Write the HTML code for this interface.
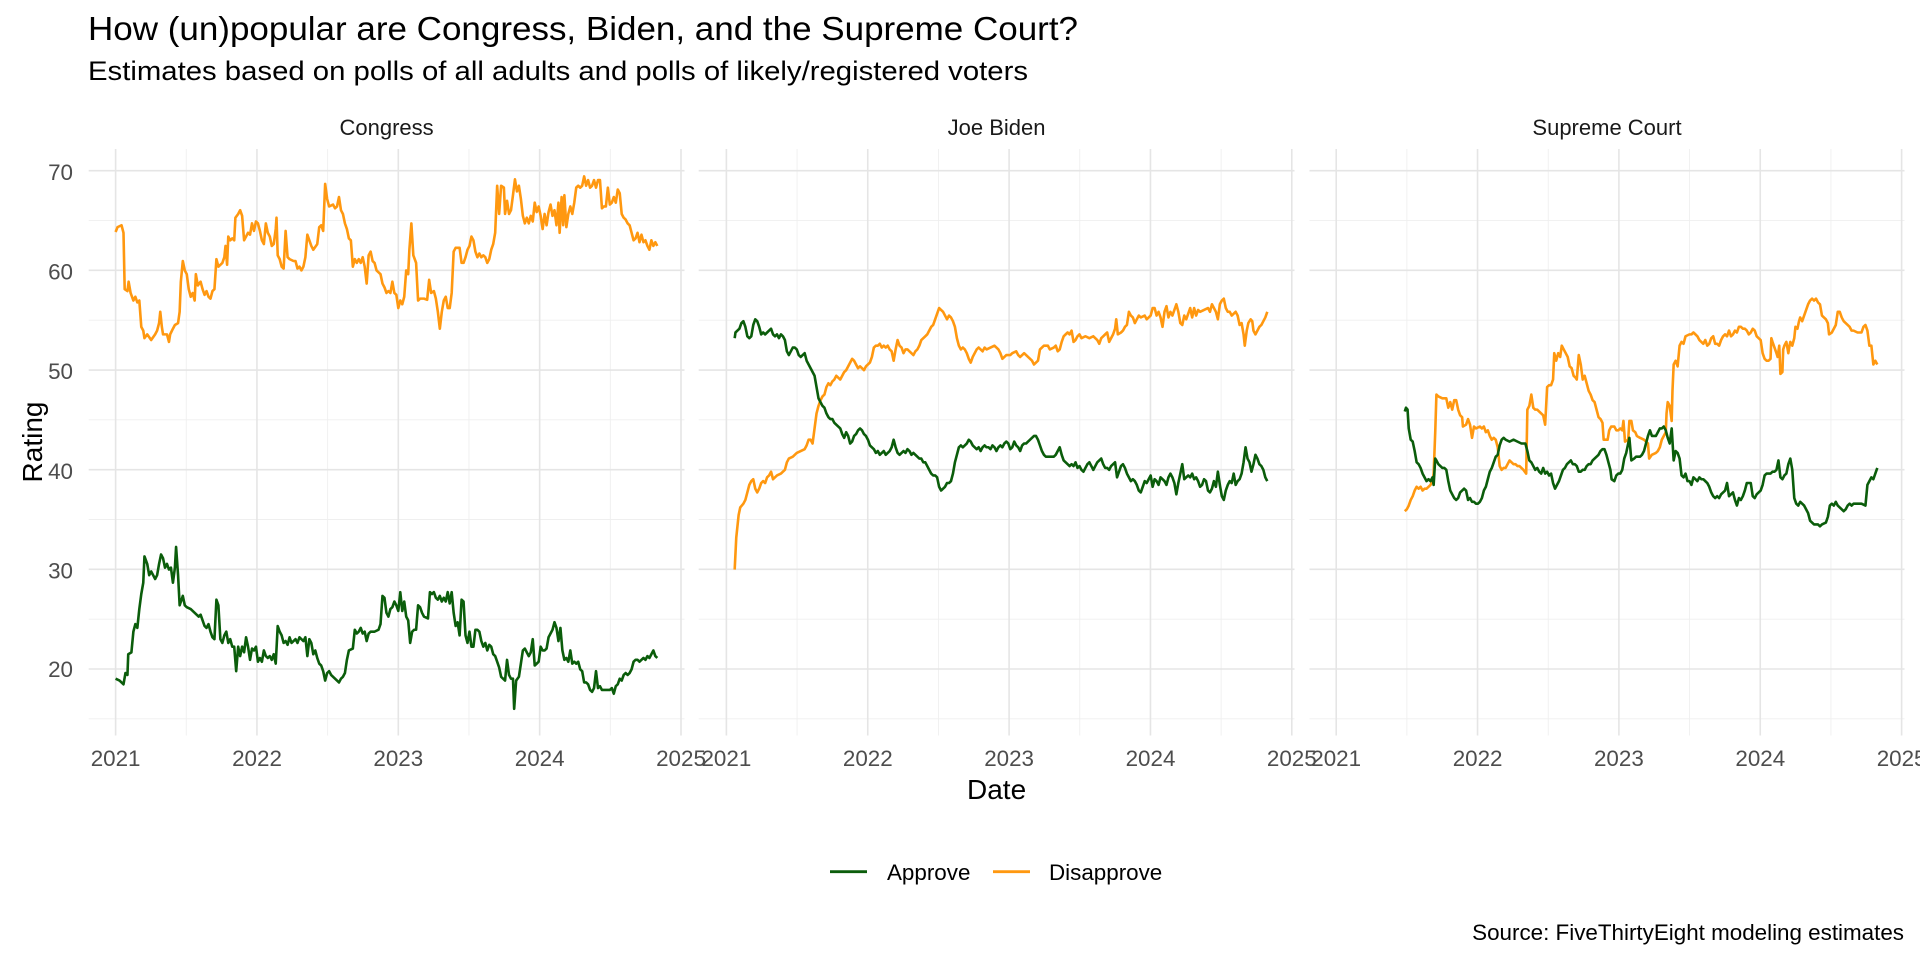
<!DOCTYPE html>
<html><head><meta charset="utf-8"><style>
html,body{margin:0;padding:0;background:#fff;}
svg{display:block;font-family:"Liberation Sans",Arial,sans-serif;}
.maj{stroke:#e5e5e5;stroke-width:1.6;}
.min{stroke:#efefef;stroke-width:0.9;}
.tk{fill:#4d4d4d;font-size:22.4px;}
.ap{fill:none;stroke:#0b5d0b;stroke-width:2.6;stroke-linejoin:round;vector-effect:non-scaling-stroke;}
.dp{fill:none;stroke:#ff9810;stroke-width:2.6;stroke-linejoin:round;vector-effect:non-scaling-stroke;}
</style></head><body>
<svg width="1920" height="960" viewBox="0 0 1920 960" xmlns="http://www.w3.org/2000/svg">
<rect width="1920" height="960" fill="#fff"/>
<text x="88" y="40" font-size="33" fill="#000" textLength="990" lengthAdjust="spacingAndGlyphs">How (un)popular are Congress, Biden, and the Supreme Court?</text>
<text x="88" y="80" font-size="27" fill="#000" textLength="940" lengthAdjust="spacingAndGlyphs">Estimates based on polls of all adults and polls of likely/registered voters</text>

<g id="grid">
</g>
<script>
(function(){
var ns="http://www.w3.org/2000/svg",g=document.getElementById("grid");
var panels=[[88.7,684.5,115.6],[698.7,1294.5,726.4],[1309.5,1904.5,1336.2]];
var yr=141.35,top=149,bot=735.5;
function y(v){return 669-(v-20)*9.966;}
function ln(x1,y1,x2,y2,c){var l=document.createElementNS(ns,"line");l.setAttribute("x1",x1);l.setAttribute("y1",y1);l.setAttribute("x2",x2);l.setAttribute("y2",y2);l.setAttribute("class",c);g.appendChild(l);}
panels.forEach(function(p){
 for(var v=15;v<=65;v+=10) ln(p[0],y(v),p[1],y(v),"min");
 for(var k=0;k<4;k++) ln(p[2]+yr*(k+0.5),top,p[2]+yr*(k+0.5),bot,"min");
 for(var v=20;v<=70;v+=10) ln(p[0],y(v),p[1],y(v),"maj");
 for(var k=0;k<=4;k++) ln(p[2]+yr*k,top,p[2]+yr*k,bot,"maj");
});
})();
</script>

<text x="386.6" y="135" font-size="22" fill="#1a1a1a" text-anchor="middle">Congress</text>
<text x="996.6" y="135" font-size="22" fill="#1a1a1a" text-anchor="middle">Joe Biden</text>
<text x="1607" y="135" font-size="22" fill="#1a1a1a" text-anchor="middle">Supreme Court</text>

<g class="tk" text-anchor="end">
<text x="73" y="180">70</text>
<text x="73" y="279.5">60</text>
<text x="73" y="379">50</text>
<text x="73" y="479">40</text>
<text x="73" y="578.5">30</text>
<text x="73" y="677">20</text>
</g>
<g class="tk" text-anchor="middle">
<text x="115.6" y="766">2021</text><text x="257" y="766">2022</text><text x="398.3" y="766">2023</text><text x="539.7" y="766">2024</text><text x="681" y="766">2025</text>
<text x="726.4" y="766">2021</text><text x="867.8" y="766">2022</text><text x="1009.1" y="766">2023</text><text x="1150.5" y="766">2024</text><text x="1291.8" y="766">2025</text>
<text x="1336.2" y="766">2021</text><text x="1477.6" y="766">2022</text><text x="1618.9" y="766">2023</text><text x="1760.3" y="766">2024</text><text x="1901.6" y="766">2025</text>
</g>
<text x="996.6" y="799" font-size="28" fill="#000" text-anchor="middle">Date</text>
<text transform="translate(42,442) rotate(-90)" font-size="28" fill="#000" text-anchor="middle">Rating</text>

<g transform="translate(80,150) scale(0.39541,0.37628)">
<polyline class="dp" points="90,218 95,205 105,200 110,220 113,370 120,375 123,350 128,380 135,400 140,390 145,405 150,400 155,470 160,480 163,500 170,490 180,505 190,490 195,480 200,460 203,430 207,470 210,490 220,490 225,510 228,490 235,475 240,465 248,460 252,430 255,350 260,295 265,320 270,330 275,370 280,390 285,380 290,400 293,330 298,360 305,350 310,370 315,385 320,375 325,390 330,395 335,375 340,370 345,290 350,310 360,300 365,285 368,255 372,305 375,230 380,240 385,235 390,240 393,180 400,170 405,160 410,175 415,240 420,230 425,220 430,225 435,195 440,215 445,190 450,195 455,215 460,240 465,250 470,195 475,220 480,230 485,255 490,250 495,210 497,180 500,280 505,290 510,310 515,315 520,215 525,285 530,290 540,295 545,295 550,315 555,310 560,320 565,310 570,285 575,225 580,240 585,255 590,265 600,250 605,205 610,200 615,215 620,90 625,130 630,150 640,145 645,155 650,150 655,125 660,160 665,170 670,195 675,210 680,235 685,240 690,310 695,290 700,300 705,290 710,300 715,285 720,310 725,355 730,280 735,270 740,295 745,300 750,320 755,325 760,330 765,355 770,365 775,380 780,375 785,380 790,350 795,380 800,385 805,420 810,400 815,410 820,390 825,320 830,330 833,265 838,195 843,280 850,300 855,400 860,395 870,395 878,398 883,345 888,380 895,375 900,395 905,430 910,475 915,430 920,400 925,390 930,420 935,420 940,380 945,270 950,260 960,260 965,300 970,300 975,285 980,265 985,255 990,230 995,240 1000,270 1005,285 1010,275 1015,285 1020,280 1025,285 1030,300 1035,290 1040,265 1045,250 1050,220 1055,95 1060,170 1065,95 1072,100 1075,170 1080,135 1085,170 1090,160 1095,120 1100,78 1105,110 1110,95 1115,130 1120,175 1125,195 1130,180 1135,195 1140,175 1145,190 1150,140 1155,165 1160,150 1165,175 1170,210 1175,170 1180,200 1185,165 1190,145 1195,175 1200,160 1205,200 1210,140 1213,220 1218,125 1222,200 1225,120 1230,205 1235,170 1240,150 1245,170 1250,140 1255,100 1260,95 1265,100 1270,95 1275,70 1280,95 1285,80 1290,100 1295,95 1300,80 1305,100 1310,80 1315,80 1320,155 1325,150 1330,150 1335,100 1340,145 1345,140 1350,125 1355,140 1360,105 1365,115 1370,170 1375,180 1380,185 1385,195 1390,200 1395,220 1400,240 1405,235 1410,220 1415,245 1420,225 1425,245 1430,240 1435,255 1440,265 1445,240 1450,255 1455,245 1460,255"/>
<polyline class="ap" points="90,1405 100,1410 110,1420 115,1390 120,1395 122,1340 130,1335 135,1280 140,1260 145,1270 150,1220 155,1180 160,1150 163,1080 170,1100 175,1130 180,1120 185,1130 190,1140 195,1130 200,1100 205,1075 210,1085 215,1110 220,1100 225,1115 230,1110 235,1150 240,1110 243,1055 248,1130 252,1210 260,1185 265,1210 270,1215 280,1220 290,1230 300,1240 305,1235 310,1250 315,1265 320,1270 325,1260 330,1280 335,1295 340,1300 345,1195 350,1210 355,1300 360,1310 365,1290 370,1280 375,1310 380,1300 385,1320 390,1320 395,1385 400,1320 405,1345 410,1320 415,1335 420,1295 425,1320 430,1355 435,1325 440,1330 445,1320 450,1360 455,1350 460,1360 465,1330 470,1345 475,1350 480,1345 485,1355 490,1340 495,1365 500,1265 505,1280 510,1290 515,1310 520,1305 525,1315 530,1295 535,1310 540,1305 545,1300 550,1310 555,1295 560,1300 565,1305 570,1295 575,1345 580,1300 585,1310 590,1340 595,1330 600,1350 605,1365 610,1370 615,1385 620,1410 625,1390 630,1385 635,1395 640,1400 645,1405 650,1410 655,1415 660,1405 665,1400 670,1390 675,1355 680,1330 690,1325 695,1275 700,1285 705,1280 710,1270 715,1285 720,1280 725,1305 730,1285 735,1280 745,1280 755,1275 760,1260 765,1185 770,1190 775,1230 780,1240 785,1220 790,1215 795,1200 800,1210 805,1225 810,1175 815,1225 820,1200 825,1240 830,1250 835,1310 840,1280 845,1275 850,1275 855,1210 860,1215 865,1230 870,1240 880,1245 885,1175 890,1180 895,1175 900,1190 905,1195 910,1185 915,1200 920,1190 925,1200 930,1175 935,1205 940,1175 945,1230 950,1265 955,1255 960,1290 965,1195 970,1200 975,1290 980,1310 985,1280 990,1320 995,1320 1000,1275 1005,1275 1010,1280 1015,1305 1020,1320 1025,1310 1030,1330 1035,1315 1040,1320 1045,1340 1050,1345 1055,1360 1060,1375 1065,1400 1070,1405 1075,1410 1080,1355 1085,1395 1090,1405 1095,1405 1098,1485 1103,1410 1110,1400 1115,1365 1120,1330 1125,1325 1130,1335 1135,1345 1140,1335 1145,1300 1150,1370 1155,1365 1160,1360 1165,1320 1170,1330 1175,1330 1180,1325 1185,1295 1190,1285 1195,1275 1200,1255 1205,1270 1210,1305 1215,1270 1220,1330 1225,1355 1230,1350 1235,1360 1240,1330 1245,1365 1250,1360 1255,1365 1260,1360 1265,1380 1270,1385 1275,1415 1280,1415 1285,1420 1290,1435 1295,1440 1300,1430 1305,1385 1310,1430 1315,1425 1320,1435 1330,1435 1340,1435 1345,1430 1350,1445 1355,1425 1360,1420 1365,1405 1370,1410 1375,1395 1380,1390 1385,1395 1390,1390 1395,1380 1400,1360 1405,1355 1410,1355 1415,1360 1420,1355 1425,1350 1430,1355 1435,1345 1440,1350 1445,1340 1450,1330 1455,1345 1460,1350"/>
</g>

<g transform="translate(690,150) scale(0.39541,0.37628)">
<polyline class="dp" points="113,1115 117,1030 120,1000 123,970 127,950 135,940 140,930 145,910 150,890 155,880 160,875 165,900 170,910 175,900 180,885 185,880 190,885 195,870 200,865 205,855 210,875 215,870 220,865 230,860 240,850 245,830 250,820 260,815 270,805 280,800 290,795 295,785 300,770 305,770 310,780 315,740 320,700 325,680 330,665 335,655 340,650 345,630 350,620 355,625 360,615 365,610 370,600 375,605 380,610 385,600 390,590 395,585 400,575 405,565 410,555 415,560 420,570 425,580 430,575 435,580 440,585 445,575 450,570 455,565 460,550 465,525 470,520 475,520 480,515 485,525 490,520 495,525 500,520 505,530 510,535 515,560 520,530 525,505 530,520 535,525 540,540 545,530 550,530 555,535 560,540 565,545 570,535 575,530 580,520 585,505 590,500 595,495 600,490 605,480 610,470 615,465 620,450 625,435 630,420 635,425 640,430 645,440 650,450 655,440 660,445 665,455 670,470 675,500 680,520 685,530 690,525 695,530 700,540 705,555 710,565 715,550 720,540 725,530 730,525 740,535 745,525 750,530 760,525 770,520 780,530 785,540 790,555 795,550 800,545 810,545 815,540 825,535 830,545 835,550 845,540 850,545 855,550 860,555 865,560 870,570 875,565 880,560 885,530 890,525 895,520 905,520 910,530 920,525 925,520 930,535 935,530 940,510 945,495 950,490 955,485 960,490 965,480 970,510 975,505 980,495 985,490 990,500 1000,495 1010,500 1020,495 1030,505 1035,515 1040,500 1045,495 1050,490 1055,485 1060,510 1065,500 1070,490 1075,475 1078,450 1082,490 1090,485 1095,480 1100,470 1105,465 1110,430 1115,440 1120,445 1125,460 1130,450 1135,440 1140,445 1150,440 1155,450 1160,445 1165,440 1170,420 1175,420 1180,440 1185,430 1190,445 1195,470 1200,430 1205,415 1210,445 1215,430 1220,440 1225,425 1230,410 1235,430 1240,460 1245,465 1250,440 1255,450 1260,435 1265,420 1270,445 1275,420 1280,440 1285,425 1290,430 1300,425 1310,420 1315,430 1320,410 1325,420 1330,430 1335,450 1340,410 1345,400 1350,395 1355,420 1360,430 1365,430 1370,440 1375,435 1380,430 1385,440 1390,465 1395,460 1400,490 1403,520 1408,480 1412,460 1418,450 1422,455 1425,480 1430,490 1435,480 1440,470 1445,465 1450,455 1455,445 1460,430"/>
<polyline class="ap" points="113,500 115,485 120,480 125,475 130,460 135,455 140,470 145,495 150,500 155,495 160,465 165,450 170,455 175,470 180,490 185,485 190,490 195,485 200,480 205,475 210,490 215,495 220,490 225,500 230,490 235,495 240,505 245,535 250,545 255,535 260,525 265,525 270,530 275,545 280,550 285,545 290,540 295,560 300,570 305,580 310,590 315,600 320,630 325,660 330,670 335,680 340,685 345,700 350,710 355,715 360,715 365,725 370,730 375,735 380,740 385,755 390,765 395,750 400,760 405,780 410,775 415,760 420,755 425,745 430,740 435,745 440,755 445,760 450,770 455,785 460,790 465,795 470,805 475,800 480,810 485,805 490,800 495,810 500,805 505,800 510,790 515,770 520,790 525,805 530,810 535,805 540,800 545,805 550,795 555,800 560,810 565,805 570,810 575,815 580,820 585,820 590,830 595,830 600,840 605,850 610,860 615,865 620,865 625,870 630,895 635,905 640,900 645,895 650,885 655,885 660,880 665,860 670,830 675,810 680,790 685,785 690,790 695,785 700,780 705,770 710,775 715,785 720,790 725,795 730,790 735,800 740,790 745,785 750,790 755,790 760,795 765,785 770,790 775,800 780,790 785,785 790,790 795,780 800,775 805,780 810,795 815,790 820,775 825,785 830,790 835,800 840,785 845,780 850,780 855,775 860,770 865,765 870,760 875,760 880,770 885,785 890,800 895,810 900,815 910,815 920,815 925,810 930,800 935,790 940,810 945,825 950,830 955,835 960,840 965,835 970,840 975,830 980,845 985,840 990,850 995,855 1000,845 1005,835 1010,830 1015,840 1020,850 1025,840 1030,830 1035,825 1040,820 1045,835 1050,845 1055,845 1060,850 1065,840 1070,835 1075,830 1080,870 1085,855 1090,840 1095,835 1100,845 1105,860 1110,870 1115,880 1120,875 1125,880 1130,890 1135,905 1140,910 1145,895 1150,880 1155,885 1160,875 1165,865 1170,895 1175,875 1180,880 1185,890 1190,870 1195,875 1200,880 1205,890 1210,870 1215,860 1220,870 1225,885 1230,915 1235,885 1240,860 1245,835 1250,875 1255,870 1260,865 1265,870 1270,860 1275,875 1280,870 1285,880 1290,895 1295,890 1300,875 1305,880 1310,905 1315,910 1320,900 1325,880 1330,895 1335,855 1340,890 1345,920 1350,930 1355,905 1360,890 1365,880 1370,885 1375,860 1380,890 1385,880 1390,875 1395,860 1400,830 1405,790 1410,820 1415,830 1420,855 1425,835 1430,810 1435,820 1440,835 1445,840 1450,850 1455,870 1460,880"/>
</g>

<g transform="translate(1300,150) scale(0.39541,0.37628)">
<polyline class="dp" points="265,960 270,955 275,945 280,930 285,920 290,905 295,895 300,900 305,895 310,905 315,900 320,900 325,895 330,890 335,880 338,860 342,750 345,650 350,655 360,660 370,660 375,685 380,670 385,690 390,665 395,665 400,690 405,705 410,710 412,735 420,730 425,715 430,730 435,765 440,735 445,740 455,735 460,740 465,735 470,750 475,745 480,760 485,770 490,765 495,770 500,790 505,840 510,850 515,845 520,845 525,835 530,825 535,830 540,835 545,835 550,840 555,840 560,845 565,850 572,860 575,690 580,680 585,650 590,685 595,690 600,690 605,695 610,700 615,705 620,730 625,630 630,625 635,625 640,610 643,540 648,560 653,540 658,550 662,520 667,530 672,540 677,550 682,575 687,580 692,600 697,605 700,610 705,545 710,570 715,610 720,600 725,620 730,640 735,650 740,665 745,670 750,690 755,710 760,715 765,725 768,770 778,770 782,745 787,735 795,735 800,745 805,745 810,740 815,745 818,720 822,775 830,770 833,720 838,720 842,745 848,750 852,760 860,765 870,770 875,775 880,780 883,820 890,810 900,805 905,800 910,790 915,770 920,760 925,750 927,700 930,670 935,680 940,720 942,640 945,570 950,560 955,575 960,520 965,510 970,515 975,495 985,490 990,490 995,485 1000,490 1005,495 1010,505 1015,510 1020,515 1025,505 1030,520 1035,515 1040,500 1045,495 1050,515 1055,515 1060,520 1065,505 1070,495 1075,490 1080,495 1085,480 1090,495 1095,490 1100,480 1105,485 1110,470 1115,470 1120,475 1125,475 1130,480 1135,490 1140,485 1145,475 1150,480 1155,495 1160,500 1165,505 1170,540 1175,555 1180,560 1185,560 1190,555 1192,500 1195,510 1200,525 1205,540 1208,550 1212,520 1215,595 1220,590 1222,530 1225,520 1230,510 1235,540 1238,520 1240,510 1245,520 1250,500 1253,470 1258,475 1262,455 1265,445 1270,455 1275,440 1280,425 1285,410 1290,400 1295,395 1300,400 1305,395 1310,405 1315,410 1320,440 1325,445 1330,450 1335,460 1338,490 1345,485 1350,475 1355,465 1360,430 1365,430 1370,445 1375,455 1380,460 1385,465 1390,470 1395,480 1400,480 1410,485 1420,485 1425,470 1430,465 1435,480 1440,520 1445,520 1450,570 1455,560 1460,570"/>
<polyline class="ap" points="265,695 268,685 272,690 275,740 280,770 285,775 290,800 295,830 300,835 305,845 310,860 315,870 320,880 325,875 330,880 335,870 338,890 342,820 345,825 350,835 355,840 360,845 365,845 370,850 375,880 380,905 385,915 390,925 395,930 400,925 405,910 410,905 415,900 420,905 425,930 430,925 435,935 440,935 445,940 450,940 455,935 460,925 465,905 470,895 475,875 480,855 485,845 490,830 495,815 500,810 505,785 510,770 515,765 520,770 530,775 540,770 550,775 560,780 570,780 575,800 580,825 585,830 590,840 595,850 600,845 605,855 610,860 615,845 620,860 625,855 630,865 635,860 640,885 645,900 650,890 655,880 660,865 665,850 670,845 675,835 680,830 685,825 690,835 695,835 700,840 705,855 710,855 715,850 720,850 725,840 730,835 735,835 740,825 745,820 750,815 755,810 760,800 765,795 770,795 775,810 780,830 785,850 788,875 795,880 800,865 805,860 810,860 815,850 820,820 825,805 830,780 833,765 838,825 845,820 850,815 860,815 865,810 870,800 875,780 880,760 885,745 890,760 895,760 900,760 905,750 910,740 915,740 920,735 925,745 930,765 935,780 940,740 945,825 950,800 955,805 960,820 965,865 970,870 975,860 980,880 985,880 990,890 995,870 1000,875 1005,880 1010,870 1015,875 1020,875 1025,880 1030,885 1035,895 1040,910 1045,920 1050,925 1055,920 1060,925 1065,915 1070,910 1075,905 1080,885 1085,920 1090,915 1095,910 1100,930 1105,945 1110,925 1115,930 1120,920 1125,905 1130,885 1135,885 1140,885 1145,920 1150,925 1155,915 1160,910 1165,905 1170,890 1175,865 1180,860 1185,860 1190,860 1195,855 1200,855 1205,850 1210,825 1215,870 1220,875 1225,865 1230,860 1235,835 1240,820 1245,850 1250,925 1255,940 1260,945 1265,935 1270,940 1275,945 1280,955 1285,965 1290,985 1295,990 1300,995 1310,995 1315,1000 1320,995 1330,990 1335,975 1340,945 1345,940 1350,945 1355,935 1360,945 1365,950 1370,955 1375,960 1380,955 1385,945 1390,940 1395,945 1400,940 1410,940 1420,940 1430,945 1435,890 1440,880 1445,870 1450,875 1455,860 1460,845"/>
</g>

<line x1="830" y1="871.7" x2="867" y2="871.7" stroke="#0b5d0b" stroke-width="2.8"/>
<text x="887" y="880" font-size="22.4" fill="#000">Approve</text>
<line x1="993" y1="871.7" x2="1030" y2="871.7" stroke="#ff9810" stroke-width="2.8"/>
<text x="1049" y="880" font-size="22.4" fill="#000">Disapprove</text>

<text x="1904" y="940" font-size="22.4" fill="#000" text-anchor="end">Source: FiveThirtyEight modeling estimates</text>
</svg>
</body></html>
